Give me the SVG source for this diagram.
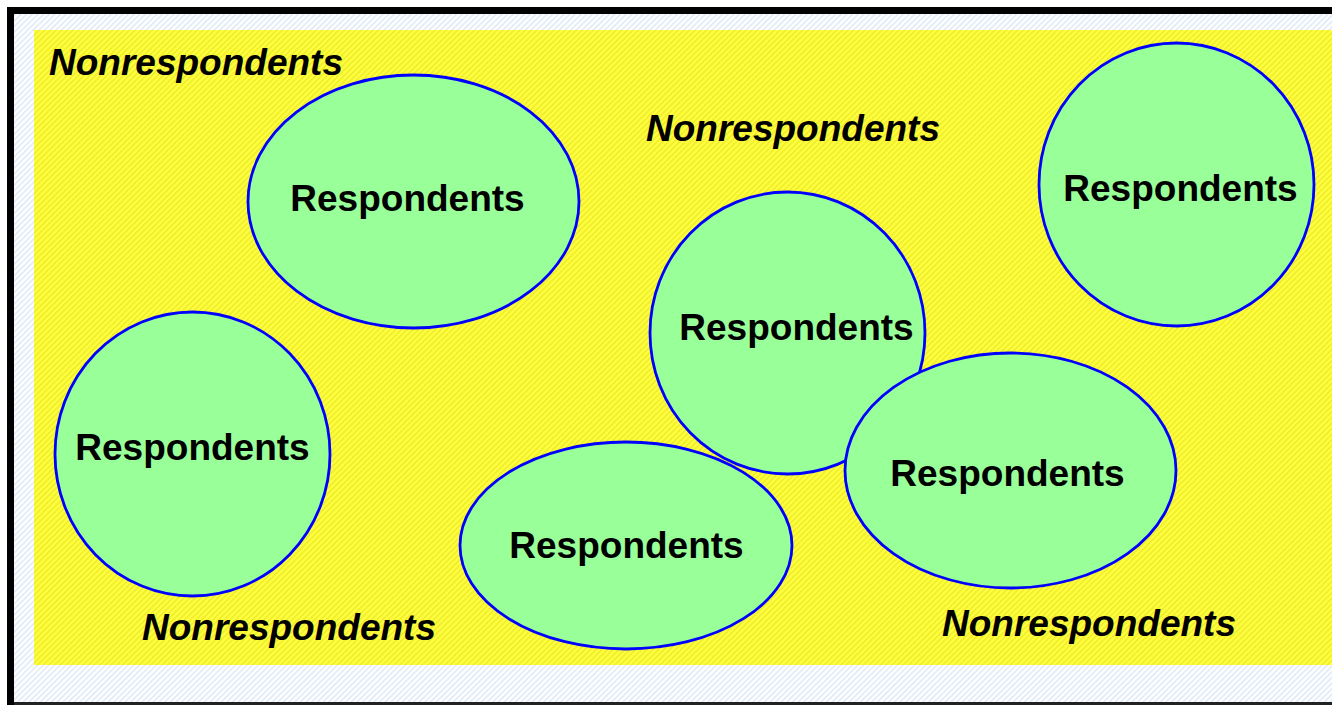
<svg xmlns="http://www.w3.org/2000/svg" width="1332" height="705" viewBox="0 0 1332 705">
<defs>
<pattern id="hatchW" width="4" height="4" patternUnits="userSpaceOnUse" patternTransform="rotate(45)">
<rect width="4" height="4" fill="#ffffff"/>
<rect width="1.6" height="4" fill="#dfe9f6"/>
</pattern>
<pattern id="hatchY" width="4" height="4" patternUnits="userSpaceOnUse" patternTransform="rotate(45)">
<rect width="4" height="4" fill="#ffff40"/>
<rect width="1.6" height="4" fill="#ecec2a"/>
</pattern>
<style>
.resp ellipse{fill:#99ff99;stroke:#0000ff;stroke-width:2.8}
.rt{font-family:"Liberation Sans",Arial,sans-serif;font-weight:bold;font-size:37px;fill:#000;text-anchor:middle}
.nt{font-family:"Liberation Sans",Arial,sans-serif;font-weight:bold;font-style:italic;font-size:37px;fill:#000}
</style>
</defs>
<rect x="0" y="0" width="1332" height="705" fill="#ffffff"/>
<rect x="14" y="14" width="1318" height="689" fill="url(#hatchW)"/>
<rect x="7" y="7" width="1325" height="7" fill="#000"/>
<rect x="7" y="7" width="7" height="698" fill="#000"/>
<rect x="14" y="702" width="1318" height="3" fill="#222"/>
<rect x="34" y="30" width="1298" height="635" fill="url(#hatchY)"/>
<g id="nonresp">
<text class="nt" x="49" y="75">Nonrespondents</text>
<text class="nt" x="646" y="141">Nonrespondents</text>
<text class="nt" x="142" y="640">Nonrespondents</text>
<text class="nt" x="942" y="636">Nonrespondents</text>
</g>
<g id="resp1" class="resp"><ellipse cx="413.5" cy="201.5" rx="165.5" ry="126.5"/><text class="rt" x="407.5" y="211">Respondents</text></g>
<g id="resp2" class="resp"><ellipse cx="1176.5" cy="184.5" rx="137.5" ry="141.5"/><text class="rt" x="1180.5" y="201">Respondents</text></g>
<g id="resp3" class="resp"><ellipse cx="192.5" cy="454" rx="137.5" ry="142"/><text class="rt" x="192.5" y="460">Respondents</text></g>
<g id="resp4" class="resp"><ellipse cx="626" cy="545.5" rx="166" ry="103.5"/><text class="rt" x="626.5" y="558">Respondents</text></g>
<g id="resp5" class="resp"><ellipse cx="787.5" cy="333" rx="137.5" ry="141"/><text class="rt" x="796.5" y="340">Respondents</text></g>
<g id="resp6" class="resp"><ellipse cx="1010.5" cy="470.5" rx="165.5" ry="117.5"/><text class="rt" x="1007.5" y="486">Respondents</text></g>
<g id="connectors"/>
</svg>
